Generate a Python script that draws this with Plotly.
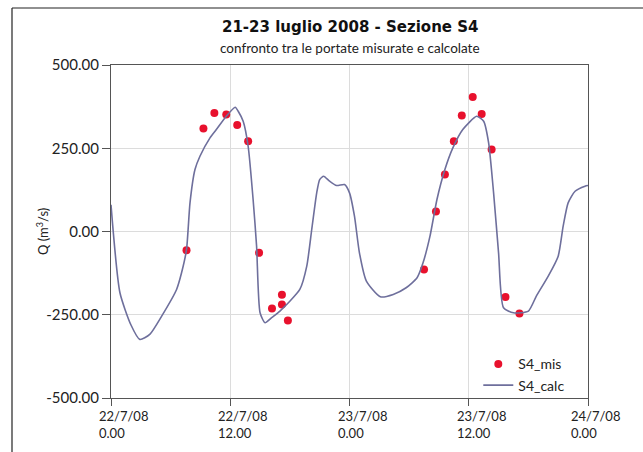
import plotly.graph_objects as go
import pandas as pd

# ---- data ----
calc_hours = [0, 0.9, 2.0, 2.9, 3.9, 5.1, 6.6, 7.1, 7.6, 7.95, 8.45, 8.95, 9.96, 10.6, 11.6, 12.5,
              12.8, 13.3, 13.8, 14.3, 14.65, 15.0, 15.5, 16.2, 17.0, 19.0, 19.7, 20.2, 20.7, 21.0,
              21.4, 22.0, 22.7, 23.5, 24.0, 24.5, 25.0, 25.7, 27.1, 28.4, 29.7, 30.8, 31.4, 32.1,
              32.8, 33.6, 34.4, 35.4, 36.8, 37.5, 38.0, 38.5, 39.0, 39.5, 40.5, 42.0, 42.8, 44.0,
              45.0, 45.5, 46.0, 46.7, 47.7, 48.0]
calc_values = [80, -184, -280, -324, -309, -254, -174, -124, -54, 86, 186, 226, 281, 306, 346, 373,
               361, 331, 256, 96, -44, -244, -274, -258, -239, -174, -104, 6, 116, 156,
               166, 151, 138, 141, 116, 46, -64, -149, -196, -189, -169, -139, -94, -14,
               96, 186, 251, 306, 346, 331, 266, 116, -64, -229, -244, -239, -194, -134,
               -74, 16, 86, 121, 136, 138]

mis_hours = [7.6, 9.3, 10.4, 11.6, 12.7, 13.8, 14.9, 16.2, 17.2, 17.2, 17.8,
             31.5, 32.7, 33.6, 34.5, 35.3, 36.4, 37.3, 38.3, 39.7, 41.1]
mis_values = [-56, 309, 356, 351, 320, 271, -64, -231, -190, -219, -267,
              -114, 60, 171, 271, 348, 404, 353, 246, -197, -246]

start = pd.Timestamp("2008-07-22 00:00")
x_tick_hours = [0, 12, 24, 36, 48]
x_tick_labels = ["22/7/08<br>0.00", "22/7/08<br>12.00", "23/7/08<br>0.00", "23/7/08<br>12.00", "24/7/08<br>0.00"]
y_tick_vals = [500, 250, 0, -250, -500]
y_tick_labels = ["500.00", "250.00", "0.00", "-250.00", "-500.00"]

title = "21-23 luglio 2008 - Sezione S4"
subtitle = "confronto tra le portate misurate e calcolate"
y_title = "Q (m<sup>3</sup>/s)"

to_time = lambda hs: [start + pd.Timedelta(hours=h) for h in hs]

FONT = "Lato"

fig = go.Figure()
fig.add_trace(go.Scatter(
    x=to_time(mis_hours), y=mis_values, mode="markers", name="S4_mis",
    marker=dict(color="#e8112d", size=8, line=dict(width=0))))
fig.add_trace(go.Scatter(
    x=to_time(calc_hours), y=calc_values, mode="lines", name="S4_calc",
    line=dict(color="#6e6f9c", width=1.6, shape="spline", smoothing=0.6)))

W, H = 643, 452
L, R, T, B = 111, 55, 65, 54
pw, ph = W - L - R, H - T - B

def px_x(p):
    return (p - L) / pw

def px_y(p):
    return (H - B - p) / ph

fig.update_layout(
    width=W, height=H,
    margin=dict(l=L, r=R, t=T, b=B),
    paper_bgcolor="white", plot_bgcolor="white",
    font=dict(family=FONT, size=13, color="#222"),
    showlegend=True,
    legend=dict(x=0.77, y=-0.01, xanchor="left", yanchor="bottom",
                bgcolor="rgba(255,255,255,0)", font=dict(size=14, family=FONT),
                tracegroupgap=0),
    xaxis=dict(
        range=[start, start + pd.Timedelta(hours=48)],
        tickvals=to_time(x_tick_hours),
        showticklabels=False,
        ticks="outside", ticklen=7, tickcolor="#555",
        showgrid=True, gridcolor="#dcdcdc", gridwidth=1,
        showline=True, linecolor="#555", linewidth=1.2, mirror=True,
        zeroline=False),
    yaxis=dict(
        range=[-500, 500],
        tickvals=y_tick_vals, ticktext=y_tick_labels,
        ticks="outside", ticklen=8, tickcolor="#555",
        tickfont=dict(size=15, family=FONT),
        showgrid=True, gridcolor="#dcdcdc", gridwidth=1,
        showline=True, linecolor="#555", linewidth=1.2, mirror=True,
        zeroline=False),
)

annotations = []
n_ticks = len(x_tick_hours)
for i, (h, lab) in enumerate(zip(x_tick_hours, x_tick_labels)):
    shift = -19 if i == n_ticks - 1 else -14
    annotations.append(dict(
        x=start + pd.Timedelta(hours=h), y=0, xref="x", yref="paper",
        text=lab, showarrow=False, xanchor="left", yanchor="top", align="left",
        xshift=shift, yshift=-8, font=dict(size=13, family=FONT, color="#222")))
annotations.append(dict(x=px_x(350), y=px_y(27), xref="paper", yref="paper",
                        text="<b>" + title + "</b>", showarrow=False,
                        xanchor="center", yanchor="middle",
                        font=dict(size=15, family="DejaVu Sans", color="#111")))
annotations.append(dict(x=px_x(350), y=px_y(48), xref="paper", yref="paper",
                        text=subtitle, showarrow=False,
                        xanchor="center", yanchor="middle",
                        font=dict(size=13.5, family=FONT, color="#222")))
annotations.append(dict(x=px_x(42), y=px_y(232), xref="paper", yref="paper",
                        text=y_title, showarrow=False, textangle=-90,
                        xanchor="center", yanchor="middle",
                        font=dict(size=13, family=FONT, color="#222")))
fig.update_layout(annotations=annotations)

# outer frame
fig.add_shape(type="line", xref="paper", yref="paper",
              x0=px_x(12), x1=px_x(12), y0=px_y(8), y1=px_y(470),
              line=dict(color="#222", width=1.2))
fig.add_shape(type="line", xref="paper", yref="paper",
              x0=px_x(12), x1=px_x(660), y0=px_y(8), y1=px_y(8),
              line=dict(color="#222", width=1.2))

fig.write_html("out.html")
